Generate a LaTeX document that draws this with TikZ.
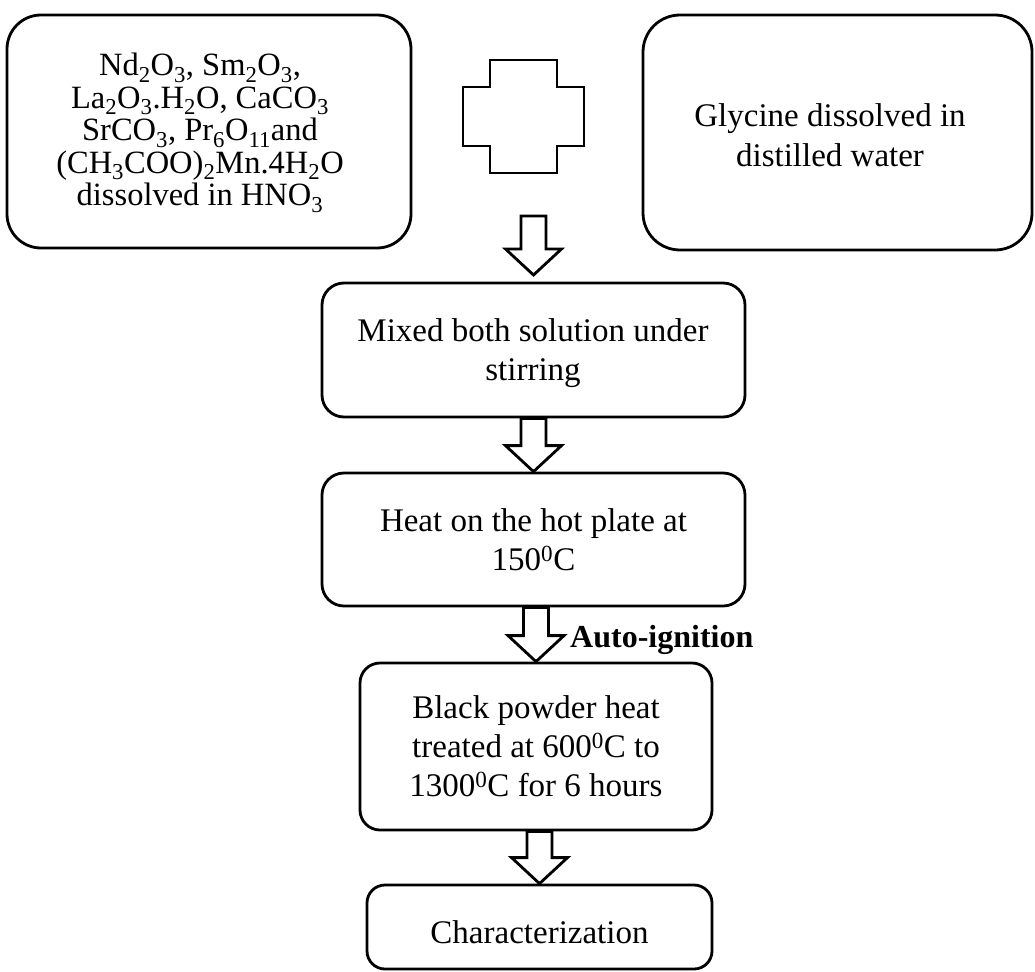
\documentclass[tikz,border=0pt]{standalone}
\usepackage{fontspec}
\setmainfont{Liberation Serif}
\usetikzlibrary{calc}
\tikzset{
  box/.style={draw=black, line width=2.8pt, fill=white, align=center, inner sep=0pt,
              font=\fontsize{33}{39}\selectfont},
  txt/.style={align=center, inner sep=0pt},
  blk/.style={draw=black, line width=2.8pt, fill=white, line join=miter},
}
\newcommand\blockarrow[2]{%
  \draw[blk] ($(#2 |- #1)+(-12.5,0)$) -- ($(#2)+(-12.5,-26)$) -- ($(#2)+(-28,-26)$) -- (#2)
    -- ($(#2)+(28,-26)$) -- ($(#2)+(12.5,-26)$) -- ($(#2 |- #1)+(12.5,0)$) -- cycle;}
\begin{document}
\begin{tikzpicture}[x=1pt,y=-1pt]
\useasboundingbox[fill=white] (0,0) rectangle (1035,971);

% top left box
\node[box, rounded corners=34pt, minimum width=404pt, minimum height=233pt] (src) at (209,131.5) {};
\node[txt, font=\fontsize{32.5}{32.5}\selectfont] (srct) at (200,133)
 {Nd\textsubscript{2}O\textsubscript{3}, Sm\textsubscript{2}O\textsubscript{3},\\
  La\textsubscript{2}O\textsubscript{3}.H\textsubscript{2}O, CaCO\textsubscript{3}\\
  SrCO\textsubscript{3}, Pr\textsubscript{6}O\textsubscript{11}and\\
  (CH\textsubscript{3}COO)\textsubscript{2}Mn.4H\textsubscript{2}O\\
  dissolved in HNO\textsubscript{3}};

% top right box
\node[box, rounded corners=37pt, minimum width=389pt, minimum height=235pt] (gly) at (837.5,132.5) {};
\node[txt, font=\fontsize{33}{40}\selectfont] (glyt) at (830,135) {Glycine dissolved in\\ distilled water};

% plus sign
\coordinate (plus) at (523.5,116.5);
\draw[blk] ($(plus)+(-33.5,-56.5)$) -- ($(plus)+(33.5,-56.5)$) -- ($(plus)+(33.5,-29.5)$)
  -- ($(plus)+(60.5,-29.5)$) -- ($(plus)+(60.5,29.5)$) -- ($(plus)+(33.5,29.5)$)
  -- ($(plus)+(33.5,56.5)$) -- ($(plus)+(-33.5,56.5)$) -- ($(plus)+(-33.5,29.5)$)
  -- ($(plus)+(-60.5,29.5)$) -- ($(plus)+(-60.5,-29.5)$) -- ($(plus)+(-33.5,-29.5)$) -- cycle;

% process boxes
\node[box, rounded corners=22pt, minimum width=423pt, minimum height=134pt] (mix) at (533.5,350) {};
\node[txt, font=\fontsize{33}{39}\selectfont] (mixt) at (533,353) {Mixed both solution under\\ stirring};
\node[box, rounded corners=22pt, minimum width=423pt, minimum height=133pt] (heat) at (533.5,539.5)
 {Heat on the hot plate at\\ 150\textsuperscript{0}C};
\node[box, rounded corners=20pt, minimum width=352pt, minimum height=167pt] (pow) at (536,746.5)
 {Black powder heat\\ treated at 600\textsuperscript{0}C to\\ 1300\textsuperscript{0}C for 6 hours};
\node[box, rounded corners=18pt, minimum width=345pt, minimum height=84pt] (char) at (539.5,927)
 {\raisebox{-5pt}[\height][\depth]{Characterization}};

% arrows
\coordinate (a1s) at ($(plus)+(10,99.5)$);
\coordinate (a1t) at ($(a1s)+(0,59)$);
\blockarrow{a1s}{a1t}
\blockarrow{mix.south}{heat.north}
\blockarrow{heat.south}{pow.north}
\blockarrow{pow.south}{char.north}

\node[anchor=base west, inner sep=0pt, font=\fontsize{32}{39}\selectfont\bfseries] (auto) at (570,647) {Auto-ignition};
\end{tikzpicture}
\end{document}
